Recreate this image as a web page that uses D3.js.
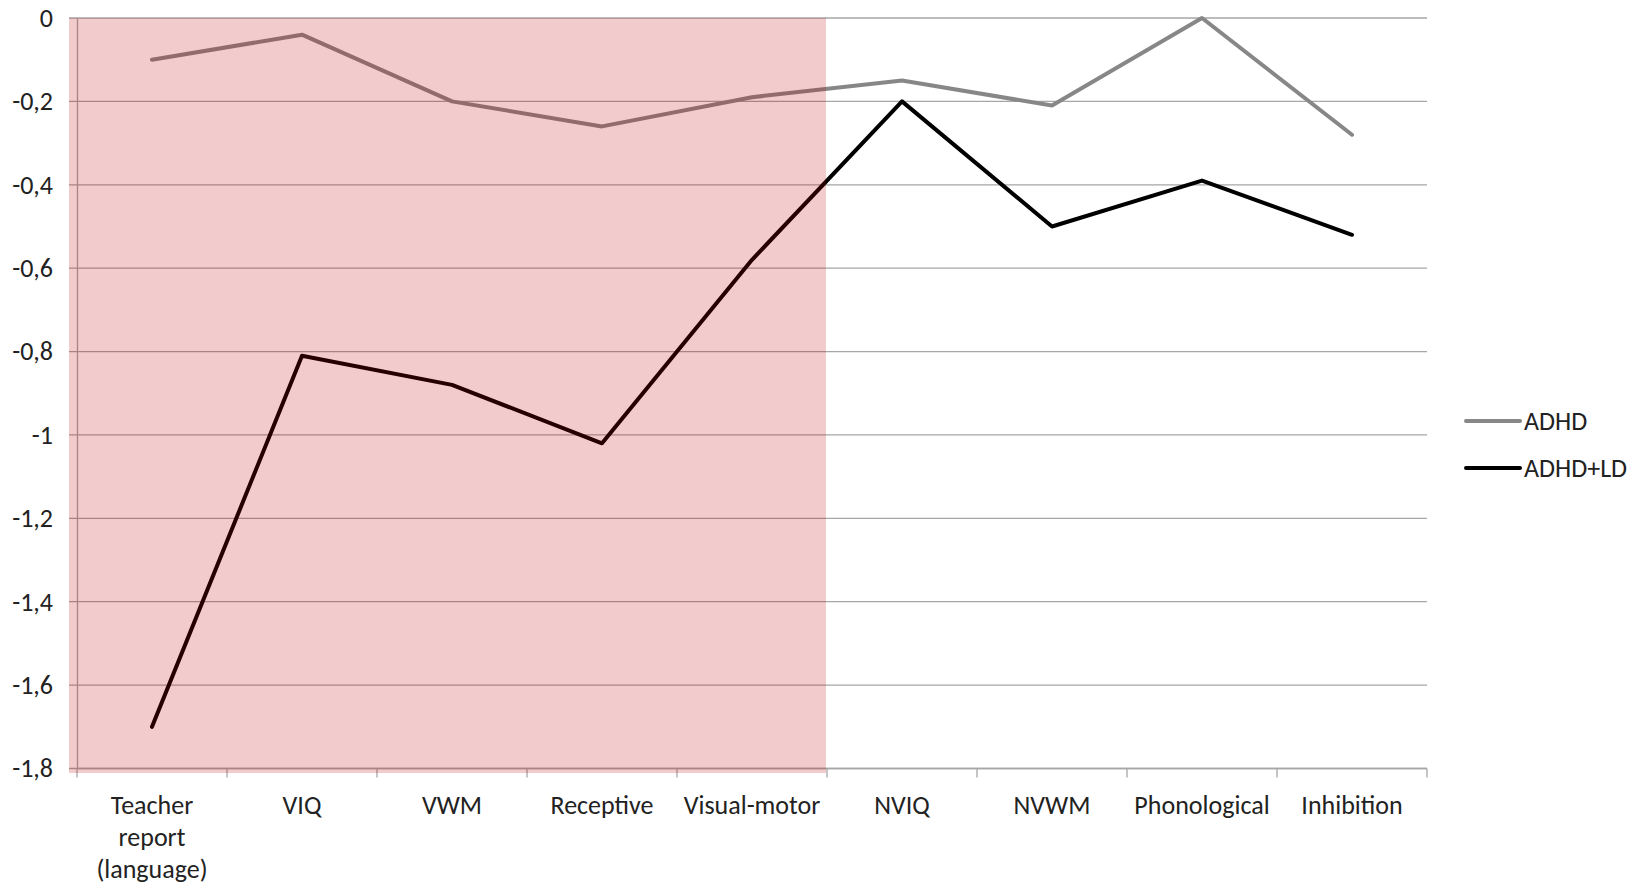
<!DOCTYPE html>
<html>
<head>
<meta charset="utf-8">
<script src="https://cdn.jsdelivr.net/npm/d3@7"></script>
<style>
  html, body { margin: 0; padding: 0; background: #fff; }
  svg { display: block; }
  text { font-family: Carlito, Calibri, Lato, "Open Sans", sans-serif; fill: #222; }
</style>
</head>
<body>
<svg width="1639" height="883"></svg>
<script>
// categories (x axis), each label split over lines
const categories = ["Teacher report (language)", "VIQ", "VWM", "Receptive", "Visual-motor", "NVIQ", "NVWM", "Phonological", "Inhibition"];
const categoryLines = [["Teacher", "report", "(language)"], ["VIQ"], ["VWM"], ["Receptive"], ["Visual-motor"], ["NVIQ"], ["NVWM"], ["Phonological"], ["Inhibition"]];

// series values
const adhd   = [-0.10, -0.04, -0.20, -0.26, -0.19, -0.15, -0.21, 0.00, -0.28];
const adhdLd = [-1.70, -0.81, -0.88, -1.02, -0.58, -0.20, -0.50, -0.39, -0.52];

// y ticks
const yTicks = [0, -0.2, -0.4, -0.6, -0.8, -1, -1.2, -1.4, -1.6, -1.8];
const yTickLabels = ["0", "-0,2", "-0,4", "-0,6", "-0,8", "-1", "-1,2", "-1,4", "-1,6", "-1,8"];

// shaded categories (verbal measures)
const shadedTo = "Visual-motor";

const seriesNames = ["ADHD", "ADHD+LD"];
const seriesColors = ["#878787", "#000000"];

const margin = {top: 18, left: 77},
      plotW = 1350,
      plotH = 750.5;
const fontSize = "26px";

const svg = d3.select("svg");
const g = svg.append("g").attr("transform", `translate(${margin.left},${margin.top})`);

const x = d3.scaleBand().domain(categories).range([0, plotW]).padding(0);
const y = d3.scaleLinear().domain([-1.8, 0]).range([plotH, 0]);

const gridColor = "#a6a6a6";

// gridlines
g.append("g").selectAll("line")
  .data(yTicks)
  .join("line")
    .attr("x1", -8).attr("x2", plotW)
    .attr("y1", d => y(d)).attr("y2", d => y(d))
    .attr("stroke", gridColor)
    .attr("stroke-width", 1.3);

// y axis
const yAxis = g.append("g")
  .call(d3.axisLeft(y).tickValues(yTicks).tickSize(0).tickPadding(24)
          .tickFormat((d, i) => yTickLabels[i]));
yAxis.select(".domain").attr("stroke", gridColor).attr("stroke-width", 1.3);
yAxis.selectAll("text").style("font-size", fontSize).attr("fill", "#222").attr("font-family", null);

// x axis: ticks sit between categories
const bounds = categories.map(c => x(c)).concat([plotW]);
const xAx = g.append("g").attr("transform", `translate(0,${plotH})`);
xAx.append("line").attr("x1", 0).attr("x2", plotW)
  .attr("stroke", gridColor).attr("stroke-width", 1.3);
xAx.selectAll(".tk").data(bounds).join("line")
  .attr("class", "tk")
  .attr("x1", d => d).attr("x2", d => d)
  .attr("y1", 0).attr("y2", 9)
  .attr("stroke", gridColor).attr("stroke-width", 1.3);

const lbl = xAx.selectAll(".lbl").data(categories).join("text")
  .attr("class", "lbl")
  .attr("x", d => x(d) + x.bandwidth() / 2)
  .attr("y", 45)
  .attr("text-anchor", "middle")
  .style("font-size", fontSize);
lbl.each(function(d, i) {
  d3.select(this).selectAll("tspan").data(categoryLines[i]).join("tspan")
    .attr("x", x(d) + x.bandwidth() / 2)
    .attr("dy", (t, j) => j === 0 ? 0 : 32)
    .text(t => t);
});

// lines
const line = d3.line()
  .x((d, i) => x(categories[i]) + x.bandwidth() / 2)
  .y(d => y(d));

[adhd, adhdLd].forEach((vals, k) => {
  g.append("path")
    .datum(vals)
    .attr("d", line)
    .attr("fill", "none")
    .attr("stroke", seriesColors[k])
    .attr("stroke-width", 4)
    .attr("stroke-linejoin", "round")
    .attr("stroke-linecap", "round");
});

// translucent shading over the verbal measures
g.append("rect")
  .attr("x", -8)
  .attr("y", 0)
  .attr("width", x(shadedTo) + x.bandwidth() - 1 + 8)
  .attr("height", plotH + 4.5)
  .attr("fill", "rgb(192,0,6)")
  .attr("fill-opacity", 0.2);

// legend
const legend = svg.append("g").attr("transform", "translate(1466,421)");
seriesNames.forEach((name, k) => {
  const row = legend.append("g").attr("transform", `translate(0,${k * 47})`);
  row.append("line")
    .attr("x1", 0).attr("x2", 54)
    .attr("stroke", seriesColors[k])
    .attr("stroke-width", 4)
    .attr("stroke-linecap", "round");
  row.append("text")
    .attr("x", 58)
    .attr("dy", "0.35em")
    .style("font-size", fontSize)
    .text(name);
});
</script>
</body>
</html>
